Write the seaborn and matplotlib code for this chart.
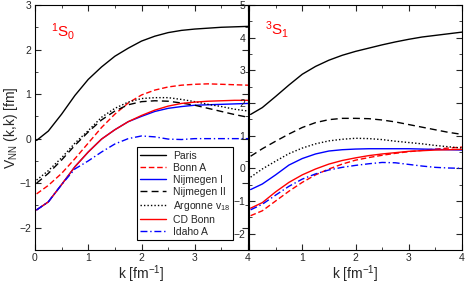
import matplotlib
matplotlib.use('Agg')
import matplotlib.pyplot as plt
import seaborn as sns
from matplotlib.ticker import MultipleLocator

# momentum grid (fm^-1)
k = [0.03, 0.25, 0.5, 0.75, 1.0, 1.25, 1.5, 1.75, 2.0, 2.25, 2.5, 2.75, 3.0, 3.25, 3.5, 3.75, 4.0]

# 1S0 channel, V_NN(k,k) [fm]
s0_paris = [-0.04, 0.17, 0.55, 0.97, 1.33, 1.61, 1.85, 2.03, 2.19, 2.30, 2.38, 2.43, 2.46, 2.48, 2.50, 2.51, 2.52]
s0_bonn_a = [-1.24, -1.05, -0.78, -0.45, -0.1, 0.25, 0.55, 0.80, 0.98, 1.09, 1.16, 1.20, 1.22, 1.23, 1.22, 1.21, 1.20]
s0_nijm1 = [-1.6, -1.42, -1.03, -0.63, -0.3, -0.01, 0.2, 0.38, 0.5, 0.61, 0.68, 0.72, 0.75, 0.76, 0.77, 0.78, 0.79]
s0_nijm2 = [-1.0, -0.78, -0.48, -0.15, 0.15, 0.42, 0.62, 0.76, 0.83, 0.85, 0.84, 0.80, 0.75, 0.68, 0.61, 0.54, 0.48]
s0_av18 = [-0.93, -0.72, -0.43, -0.1, 0.18, 0.48, 0.68, 0.82, 0.90, 0.92, 0.92, 0.88, 0.83, 0.77, 0.72, 0.66, 0.62]
s0_cdbonn = [-1.6, -1.42, -1.03, -0.63, -0.3, -0.01, 0.2, 0.38, 0.52, 0.64, 0.73, 0.79, 0.82, 0.84, 0.85, 0.86, 0.86]
s0_idaho = [-1.6, -1.42, -1.03, -0.68, -0.5, -0.3, -0.12, 0.0, 0.06, 0.04, -0.01, -0.02, 0.0, 0.0, 0.0, 0.0, 0.0]

# 3S1 channel
s1_paris = [1.65, 1.86, 2.2, 2.55, 2.88, 3.12, 3.31, 3.46, 3.58, 3.68, 3.78, 3.87, 3.95, 4.02, 4.07, 4.12, 4.17]
s1_bonn_a = [-1.45, -1.3, -1.0, -0.7, -0.43, -0.2, -0.02, 0.13, 0.25, 0.33, 0.4, 0.46, 0.51, 0.55, 0.59, 0.62, 0.65]
s1_nijm1 = [-0.65, -0.48, -0.2, 0.1, 0.3, 0.44, 0.53, 0.57, 0.59, 0.6, 0.6, 0.6, 0.6, 0.59, 0.58, 0.57, 0.56]
s1_nijm2 = [0.37, 0.6, 0.83, 1.05, 1.25, 1.4, 1.49, 1.53, 1.53, 1.52, 1.48, 1.42, 1.34, 1.26, 1.18, 1.1, 1.04]
s1_av18 = [-0.27, -0.02, 0.22, 0.45, 0.62, 0.75, 0.84, 0.89, 0.92, 0.91, 0.88, 0.83, 0.79, 0.75, 0.7, 0.66, 0.62]
s1_cdbonn = [-1.22, -1.05, -0.72, -0.43, -0.2, -0.02, 0.13, 0.24, 0.32, 0.39, 0.44, 0.48, 0.52, 0.54, 0.56, 0.57, 0.58]
s1_idaho = [-1.27, -1.1, -0.82, -0.55, -0.33, -0.17, -0.05, 0.03, 0.09, 0.14, 0.18, 0.17, 0.12, 0.07, 0.03, 0.01, 0.0]

labels = ['Paris', 'Bonn A', 'Nijmegen I', 'Nijmegen II', 'Argonne v$_{18}$', 'CD Bonn', 'Idaho A']
colors = ['black', 'red', 'blue', 'black', 'black', 'red', 'blue']
styles = ['-', (0, (4, 2)), '-', (0, (5, 3)), (0, (1, 1.5)), '-', (0, (5, 2, 1, 2))]

sns.set_style('ticks')
plt.rcParams['font.family'] = ['Liberation Sans', 'DejaVu Sans']
plt.rcParams['mathtext.fontset'] = 'custom'
plt.rcParams['mathtext.rm'] = 'Liberation Sans'
plt.rcParams['mathtext.it'] = 'Liberation Sans:italic'

fig = plt.figure(figsize=(4.67, 2.86), dpi=100)
ax1 = fig.add_axes([35 / 467, 36 / 286, 213 / 467, 245 / 286])
ax2 = fig.add_axes([249 / 467, 36 / 286, 213 / 467, 245 / 286])

panels = [
    (ax1, [s0_paris, s0_bonn_a, s0_nijm1, s0_nijm2, s0_av18, s0_cdbonn, s0_idaho]),
    (ax2, [s1_paris, s1_bonn_a, s1_nijm1, s1_nijm2, s1_av18, s1_cdbonn, s1_idaho]),
]

for ax, series in panels:
    for vals, lab, c, ls in zip(series, labels, colors, styles):
        sns.lineplot(x=k, y=vals, ax=ax, color=c, linestyle=ls, linewidth=1.0, label=lab)
    ax.set_xlim(0, 4)
    ax.xaxis.set_major_locator(MultipleLocator(1))
    ax.xaxis.set_minor_locator(MultipleLocator(0.5))
    ax.yaxis.set_major_locator(MultipleLocator(1))
    ax.yaxis.set_minor_locator(MultipleLocator(0.5))
    ax.tick_params(which='both', direction='in', top=True, right=True, labelsize=7.5, pad=2.5)
    ax.tick_params(which='major', length=4)
    ax.tick_params(which='minor', length=2)
    for sp in ax.spines.values():
        sp.set_linewidth(0.8)
        sp.set_color('black')
    ax.set_xlabel('k [fm$^{-1}$]', fontsize=10, labelpad=0)

ax1.set_ylim(-2.5, 3)
ax2.set_ylim(-2.5, 5)
ax2.set_xticks([0, 1, 2, 3, 4])
ax2.set_xticklabels(['', '1', '2', '3', '4'])
ax2.set_ylabel('')
ax1.set_ylabel('V$_\\mathrm{NN}$ (k,k) [fm]', fontsize=10, labelpad=0)

ax1.text(0.3, 2.4, '$^1$S$_0$', color='red', fontsize=11, va='center')
ax2.text(0.3, 4.25, '$^3$S$_1$', color='red', fontsize=11, va='center')

ax2.get_legend().remove()
leg = ax1.legend(loc='lower right', bbox_to_anchor=(0.93, 0.04), fontsize=7.5, frameon=True,
                 fancybox=False, edgecolor='black', framealpha=1, handlelength=2.5,
                 labelspacing=0.2, borderaxespad=0, borderpad=0.3, handletextpad=0.6)
leg.get_frame().set_linewidth(0.8)

fig.savefig('out.png', dpi=100)
